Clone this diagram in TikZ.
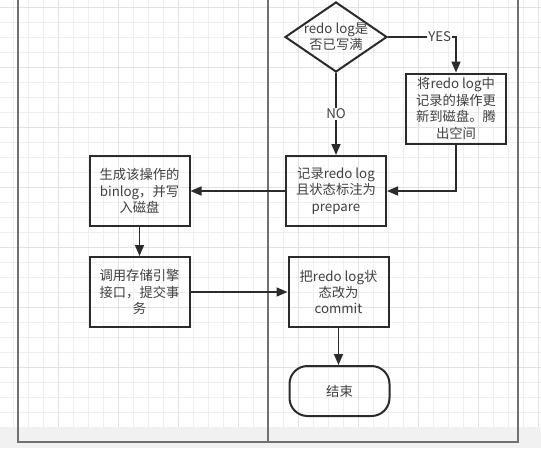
\documentclass[tikz,border=0pt]{standalone}
\usepackage{fontspec}
\setmainfont{Noto Sans CJK SC}
\usetikzlibrary{arrows.meta,shapes.geometric}
\definecolor{gridminor}{HTML}{EFEFEF}
\definecolor{gridmajor}{HTML}{E2E2E2}
\definecolor{lanec}{HTML}{707070}
\definecolor{barc}{HTML}{F1F1F1}
\definecolor{ink}{HTML}{2B2B2B}
\definecolor{txt}{HTML}{404040}
\begin{document}
\begin{tikzpicture}[x=1pt,y=-1pt,
  txtfont/.style={font=\fontsize{13.3}{16.4}\selectfont, text=txt},
  procbox/.style={draw=ink, line width=2pt, minimum width=100pt, minimum height=70pt, inner sep=0pt, align=center, txtfont},
  decbox/.style={draw=ink, line width=2pt, diamond, minimum width=102pt, minimum height=70pt, inner sep=0pt},
  termbox/.style={draw=ink, line width=2pt, rounded corners=18pt, minimum width=100pt, minimum height=50pt, inner sep=0pt, align=center, txtfont},
  conn/.style={draw=ink, line width=1.6pt, -{Triangle[length=11pt,width=9pt]}},
  lbl/.style={fill=white, inner sep=1pt, txtfont}
]
\useasboundingbox (0,0) rectangle (541,448);
\fill[white] (0,0) rectangle (541,448);
% grid
\foreach \x in {13,28,...,541} \draw[gridminor, line width=1pt] (\x,0) -- (\x,427);
\foreach \y in {7,22,...,427} \draw[gridminor, line width=1pt] (0,\y) -- (541,\y);
\foreach \x in {58,118,...,541} \draw[gridmajor, line width=1pt] (\x,0) -- (\x,427);
\foreach \y in {7,67,...,427} \draw[gridmajor, line width=1pt] (0,\y) -- (541,\y);
\fill[barc] (0,427) rectangle (541,448);
% swimlanes
\draw[lanec, line width=1.2pt] (18,0) -- (18,442) -- (518,442) -- (518,0);
\draw[lanec, line width=1.2pt] (268,0) -- (268,442);
% nodes
\node[decbox] (dec) at (336,37) {};
\node[txtfont, align=center] (dectext) at (dec) {redo log是\\否已写满};
\node[procbox] (flush) at (456,108.5) {将redo log中\\记录的操作更\\新到磁盘。腾\\出空间};
\node[procbox] (rec) at (336,191) {记录redo log\\且状态标注为\\prepare};
\node[procbox] (bin) at (139.5,191) {生成该操作的\\binlog，并写\\入磁盘};
\node[procbox] (eng) at (139.5,292) {调用存储引擎\\接口，提交事\\务};
\node[procbox] (cmt) at (338.5,292) {把redo log状\\态改为\\commit};
\node[termbox] (fin) at (339.5,391) {结束};
% connectors
\draw[conn] (dec.east) -| node[lbl, pos=0.38] {YES} (flush.north);
\draw[conn] (dec.south) -- node[lbl] {NO} (rec.north);
\draw[conn] (flush.south) |- (rec.east);
\draw[conn] (rec.west) -- (bin.east);
\draw[conn] (bin.south) -- (eng.north);
\draw[conn] (eng.east) -- (cmt.west);
\draw[conn] (cmt.south) -- (cmt.south |- fin.north);
\end{tikzpicture}
\end{document}
